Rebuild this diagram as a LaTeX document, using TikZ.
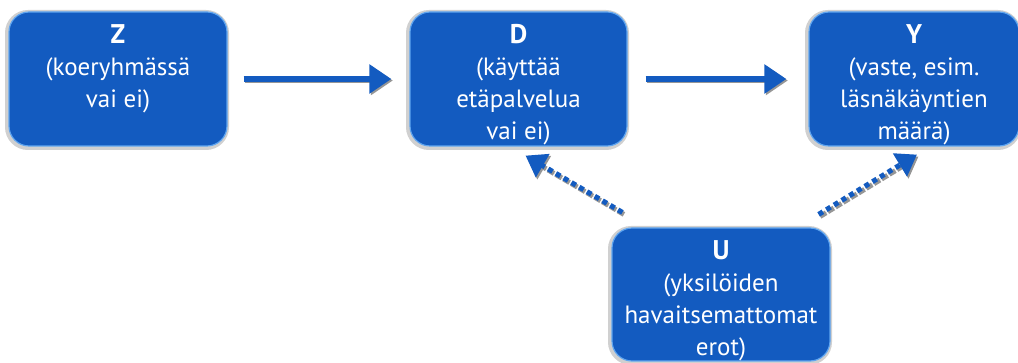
\documentclass[tikz,border=0pt]{standalone}
\usepackage{fontspec}
\setmainfont{PT Sans}
\usetikzlibrary{arrows.meta}
\definecolor{nodeblue}{RGB}{19,91,192}
\definecolor{edgeblue}{RGB}{95,165,240}
\definecolor{shadowgray}{RGB}{208,208,208}
\definecolor{arrowshadow}{RGB}{150,150,150}
\newcommand\boxtxt[3]{\parbox[c][#1][t]{210pt}{\centering\fontsize{25}{32}\selectfont
  \rule{0pt}{32pt}{\fontsize{27}{32}\selectfont\bfseries #2}\\#3\par}}
\tikzset{
  nodebox/.style={rectangle, rounded corners=20pt, fill=nodeblue, draw=edgeblue,
    line width=1.2pt, inner sep=0pt, text=white,
    preaction={draw=shadowgray, line width=6pt, transform canvas={shift={(-1pt,-1pt)}}}},
  mainarrow/.style={draw=nodeblue, line width=5.5pt,
    -{Triangle[length=22pt,width=28pt]}},
  mainshadow/.style={mainarrow, draw=arrowshadow, fill=arrowshadow,
    transform canvas={shift={(1.5pt,-1.5pt)}}},
  hiddenarrow/.style={draw=nodeblue, line width=5pt, dash pattern=on 5pt off 4pt,
    -{Triangle[length=20pt,width=26pt]}},
  hiddenshadow/.style={hiddenarrow, draw=arrowshadow, fill=arrowshadow,
    dash pattern=on 7pt off 2pt, transform canvas={shift={(1.5pt,-2pt)}}}
}
\begin{document}
\begin{tikzpicture}[x=1pt,y=-1pt]
\useasboundingbox (0,0) rectangle (1018,363);
\node[nodebox, minimum width=218pt, minimum height=134pt] (Z) at (118,79)
  {\boxtxt{134pt}{Z}{(koeryhmässä\\vai ei)}};
\node[nodebox, minimum width=217pt, minimum height=134pt] (D) at (518.5,79)
  {\boxtxt{134pt}{D}{(käyttää\\etäpalvelua\\vai ei)}};
\node[nodebox, minimum width=205pt, minimum height=134pt] (Y) at (914,79)
  {\boxtxt{134pt}{Y}{(vaste, esim.\\läsnäkäyntien\\määrä)}};
\node[nodebox, minimum width=218pt, minimum height=133pt] (U) at (721,294.5)
  {\boxtxt{133pt}{U}{(yksilöiden\\havaitsemattomat\\erot)}};
\draw[mainshadow, shorten <=16pt, shorten >=18pt] (Z.east) -- (Z.east -| D.west);
\draw[mainarrow, shorten <=16pt, shorten >=18pt] (Z.east) -- (Z.east -| D.west);
\draw[mainshadow, shorten <=18pt, shorten >=22pt] (D.east) -- (D.east -| Y.west);
\draw[mainarrow, shorten <=18pt, shorten >=22pt] (D.east) -- (D.east -| Y.west);
\draw[hiddenshadow] ([shift={(11,-15)}]U.north west) -- ([shift={(7,9)}]D.south);
\draw[hiddenarrow] ([shift={(11,-15)}]U.north west) -- ([shift={(7,9)}]D.south);
\draw[hiddenshadow] ([shift={(-12,-13)}]U.north east) -- ([shift={(3,8)}]Y.south);
\draw[hiddenarrow] ([shift={(-12,-13)}]U.north east) -- ([shift={(3,8)}]Y.south);
\end{tikzpicture}
\end{document}
